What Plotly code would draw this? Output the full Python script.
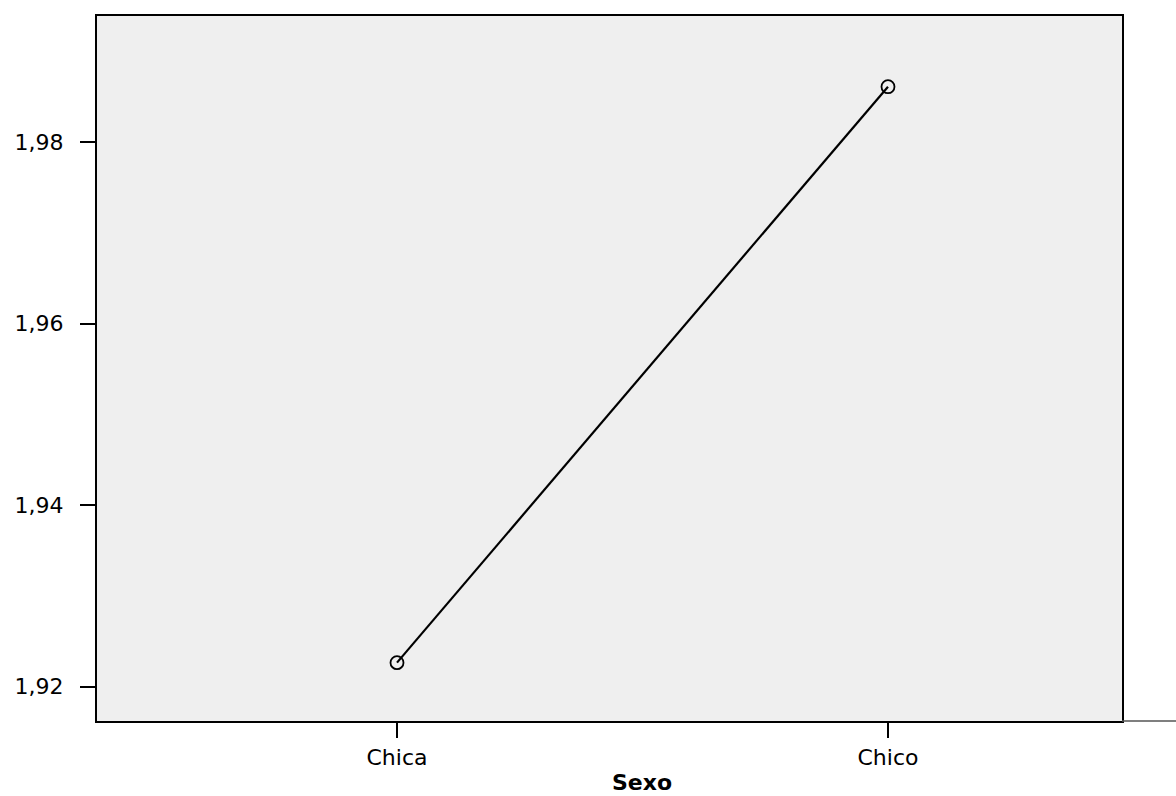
import plotly.graph_objects as go

categories = ["Chica", "Chico"]
cat_pos = [0, 1]
means = [1.92265, 1.98613]
y_ticks = [1.92, 1.94, 1.96, 1.98]
y_tick_labels = ["1,92", "1,94", "1,96", "1,98"]
x_title = "Sexo"

FONT = "DejaVu Sans, Verdana, sans-serif"

fig = go.Figure()
fig.add_trace(go.Scatter(
    x=cat_pos, y=means, mode="lines+markers",
    line=dict(color="black", width=2.2),
    marker=dict(symbol="circle-open", size=13, color="black", line=dict(width=1.8, color="black")),
    showlegend=False, cliponaxis=False,
))

fig.update_layout(
    width=1176, height=796,
    margin=dict(l=97, r=54, t=16, b=75),
    paper_bgcolor="white", plot_bgcolor="#EFEFEF",
    font=dict(family=FONT, size=22, color="black"),
    xaxis=dict(
        range=[-0.611, 1.4766], tickvals=cat_pos, ticktext=categories,
        showgrid=False, zeroline=False, showline=True, mirror=True,
        linecolor="black", linewidth=2.2, ticks="outside", ticklen=15, tickwidth=2.2,
        tickcolor="black", tickfont=dict(family=FONT, size=22),
    ),
    yaxis=dict(
        range=[1.91622, 1.99392], tickvals=y_ticks, ticktext=y_tick_labels,
        showgrid=False, zeroline=False, showline=True, mirror=True,
        linecolor="black", linewidth=2.2, ticks="outside", ticklen=15, tickwidth=2.2,
        tickcolor="black", tickfont=dict(family=FONT, size=22),
        ticklabelstandoff=12,
    ),
    shapes=[dict(type="line", xref="paper", yref="paper", x0=1, x1=1.06, y0=0, y1=0,
                 line=dict(color="#555555", width=1.5))],
    annotations=[dict(text="<b>" + x_title + "</b>", x=0.5, xref="x", y=-0.087, yref="paper",
                      yanchor="middle", xanchor="center", showarrow=False,
                      font=dict(family=FONT, size=22, color="black"))],
)

fig.write_html("out.html", config={"displayModeBar": False},
               post_script="document.body.style.margin='0';document.body.style.overflow='hidden';")
